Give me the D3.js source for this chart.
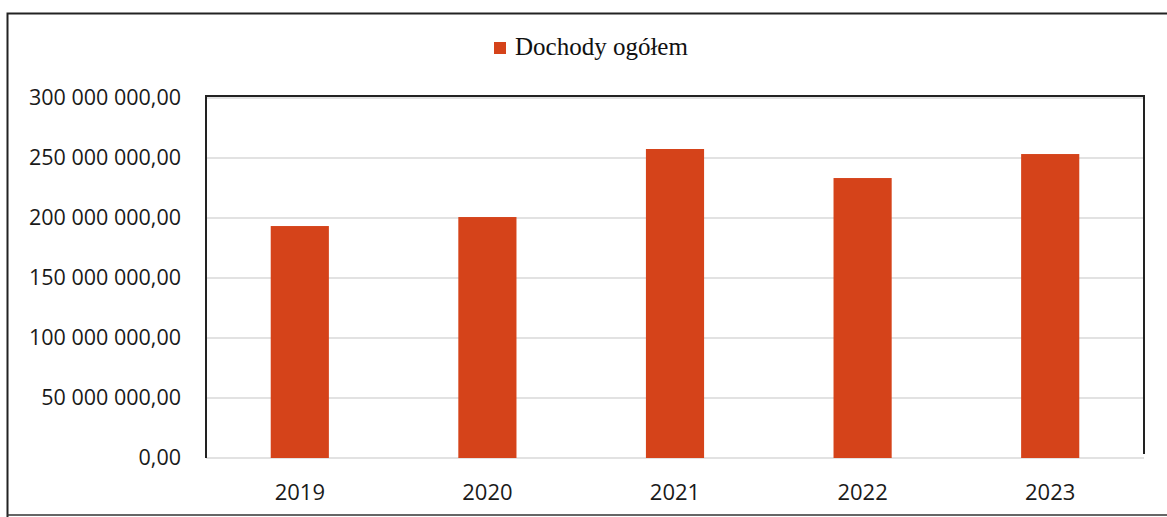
<!DOCTYPE html>
<html><head><meta charset="utf-8">
<script src="https://cdn.jsdelivr.net/npm/d3@7"></script>
<style>body{margin:0;background:#fff}svg{display:block}</style>
</head><body>
<svg id="c" width="1167" height="517"></svg>
<script>
const categories = ["2019","2020","2021","2022","2023"];
const values = [193300000, 200800000, 257500000, 233300000, 253300000];
const yTicks = [0, 50000000, 100000000, 150000000, 200000000, 250000000, 300000000];
const seriesName = "Dochody ogółem";

const svg = d3.select("#c");
const m = {left:206, right:1144, top:98, bottom:458};
const x = d3.scaleBand().domain(categories).range([m.left, m.right]).paddingInner(0.69).paddingOuter(0.345);
const y = d3.scaleLinear().domain([0, 300000000]).range([m.bottom, m.top]);

const fmt = v => d3.format(",.2f")(v).replace(/,/g," ").replace(".",",");

// outer frame
svg.append("path").attr("d","M7.5,517 L7.5,13.5 L1167,13.5").attr("fill","none").attr("stroke","#222").attr("stroke-width",2);
svg.append("line").attr("x1",7).attr("x2",1167).attr("y1",515).attr("y2",515).attr("stroke","#333").attr("stroke-width",1.5);

// gridlines
svg.append("g").selectAll("line").data(yTicks).join("line")
  .attr("x1",m.left).attr("x2",m.right).attr("y1",d=>y(d)).attr("y2",d=>y(d))
  .attr("stroke","#d9d9d9").attr("stroke-width",1.5);

// bars
svg.append("g").selectAll("rect").data(values).join("rect")
  .attr("x",(d,i)=>x(categories[i])).attr("width",x.bandwidth())
  .attr("y",d=>y(d)).attr("height",d=>y(0)-y(d))
  .attr("fill","#D5431A");

// plot border (left, top, right)
svg.append("path").attr("d",`M${m.left},${m.bottom} L${m.left},${m.top-2} L${m.right},${m.top-2} L${m.right},${m.bottom-4}`)
  .attr("fill","none").attr("stroke","#222").attr("stroke-width",2);

// y axis
const ya = d3.axisLeft(y).tickValues(yTicks).tickFormat(fmt).tickSize(0).tickPadding(25);
const gy = svg.append("g").attr("transform",`translate(${m.left},0)`).call(ya);
gy.select(".domain").remove();
gy.selectAll("text").attr("font-family","'Open Sans', sans-serif").attr("font-size",21.5).attr("fill","#1a1a1a");

// x axis
const xa = d3.axisBottom(x).tickSize(0).tickPadding(26);
const gx = svg.append("g").attr("transform",`translate(0,${m.bottom})`).call(xa);
gx.select(".domain").remove();
gx.selectAll("text").attr("font-family","'Open Sans', sans-serif").attr("font-size",22).attr("fill","#1a1a1a");

// legend
const lg = svg.append("g").attr("transform","translate(494,42)");
lg.append("rect").attr("width",12).attr("height",12).attr("fill","#D5431A");
lg.append("text").attr("x",21).attr("y",13).text(seriesName)
  .attr("font-family","'Liberation Serif', serif").attr("font-size",25).attr("fill","#111");
</script>
</body></html>
